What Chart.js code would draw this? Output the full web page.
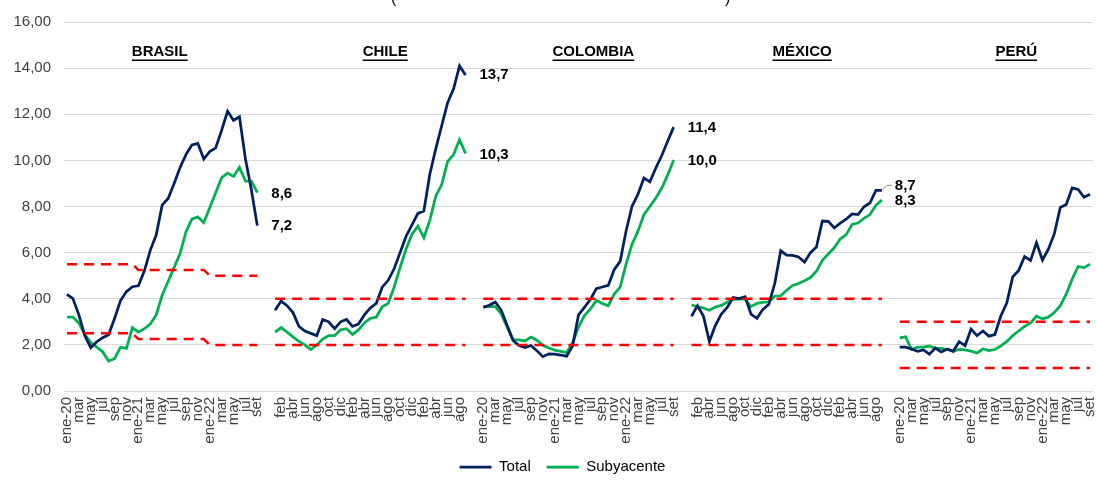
<!DOCTYPE html>
<html>
<head>
<meta charset="utf-8">
<script src="https://cdn.jsdelivr.net/npm/chart.js@4.4.0/dist/chart.umd.min.js"></script>
<style>
  html, body { margin: 0; padding: 0; background: #fff; }
</style>
</head>
<body>
<canvas id="canvas" width="1096" height="481"></canvas>
<script>
// months shown under each country block (ene-20 .. set-22)
let months = ['ene-20', 'feb', 'mar', 'abr', 'may', 'jun', 'jul', 'ago', 'sep', 'oct', 'nov', 'dic',
  'ene-21', 'feb', 'mar', 'abr', 'may', 'jun', 'jul', 'ago', 'sep', 'oct', 'nov', 'dic',
  'ene-22', 'feb', 'mar', 'abr', 'may', 'jun', 'jul', 'ago', 'set'];
let countries = ['BRASIL', 'CHILE', 'COLOMBIA', 'MÉXICO', 'PERÚ'];

let brasilTotal = [4.19, 4.01, 3.30, 2.40, 1.88, 2.13, 2.31, 2.44, 3.14, 3.92, 4.31, 4.52, 4.56, 5.20, 6.10, 6.76, 8.06, 8.35, 8.99, 9.68, 10.25, 10.67, 10.74, 10.06, 10.38, 10.54, 11.30, 12.13, 11.73, 11.89, 10.07, 8.73, 7.17];
let brasilCore = [3.2, 3.2, 2.95, 2.45, 2.1, 1.9, 1.7, 1.3, 1.4, 1.9, 1.85, 2.75, 2.55, 2.7, 2.9, 3.3, 4.15, 4.75, 5.35, 5.95, 6.9, 7.45, 7.55, 7.3, 7.95, 8.6, 9.25, 9.45, 9.3, 9.7, 9.1, 9.1, 8.6];
let chileTotal = [3.5, 3.9, 3.7, 3.4, 2.8, 2.6, 2.5, 2.4, 3.1, 3.0, 2.7, 3.0, 3.1, 2.8, 2.9, 3.3, 3.6, 3.8, 4.5, 4.8, 5.3, 6.0, 6.7, 7.2, 7.7, 7.8, 9.4, 10.5, 11.5, 12.5, 13.1, 14.1, 13.7];
let chileCore = [2.55, 2.75, 2.55, 2.35, 2.15, 2.0, 1.8, 2.0, 2.25, 2.4, 2.4, 2.65, 2.7, 2.45, 2.65, 2.95, 3.15, 3.2, 3.65, 3.8, 4.5, 5.35, 6.15, 6.8, 7.15, 6.65, 7.4, 8.45, 8.95, 9.95, 10.25, 10.9, 10.3];
let colombiaTotal = [3.62, 3.72, 3.86, 3.51, 2.85, 2.19, 1.97, 1.88, 1.97, 1.75, 1.49, 1.61, 1.60, 1.56, 1.51, 1.95, 3.30, 3.63, 3.97, 4.44, 4.51, 4.58, 5.26, 5.62, 6.94, 8.01, 8.53, 9.23, 9.07, 9.67, 10.21, 10.84, 11.44];
let colombiaCore = [3.66, 3.66, 3.66, 3.34, 2.77, 2.22, 2.22, 2.17, 2.34, 2.2, 1.98, 1.87, 1.77, 1.72, 1.67, 2.08, 2.77, 3.27, 3.56, 3.92, 3.8, 3.7, 4.2, 4.5, 5.5, 6.36, 6.93, 7.65, 8.0, 8.37, 8.8, 9.37, 10.02];
let mexicoTotal = [3.24, 3.70, 3.25, 2.15, 2.84, 3.33, 3.62, 4.05, 4.01, 4.09, 3.33, 3.15, 3.54, 3.76, 4.67, 6.08, 5.89, 5.88, 5.81, 5.59, 6.00, 6.24, 7.37, 7.36, 7.07, 7.28, 7.45, 7.68, 7.65, 7.99, 8.15, 8.70, 8.70];
let mexicoCore = [3.73, 3.66, 3.60, 3.50, 3.64, 3.71, 3.85, 3.97, 3.99, 3.98, 3.66, 3.80, 3.84, 3.87, 4.12, 4.13, 4.37, 4.58, 4.66, 4.78, 4.92, 5.19, 5.67, 5.94, 6.21, 6.59, 6.78, 7.22, 7.28, 7.49, 7.65, 8.05, 8.28];
let peruTotal = [1.90, 1.90, 1.82, 1.72, 1.78, 1.60, 1.86, 1.69, 1.82, 1.72, 2.14, 1.97, 2.68, 2.40, 2.60, 2.38, 2.45, 3.25, 3.81, 4.95, 5.23, 5.83, 5.66, 6.43, 5.68, 6.15, 6.82, 7.96, 8.09, 8.81, 8.74, 8.40, 8.53];
let peruCore = [2.3, 2.35, 1.8, 1.9, 1.9, 1.95, 1.85, 1.85, 1.8, 1.72, 1.8, 1.78, 1.73, 1.65, 1.82, 1.75, 1.8, 1.95, 2.15, 2.4, 2.6, 2.8, 2.95, 3.24, 3.13, 3.2, 3.4, 3.7, 4.2, 4.85, 5.4, 5.35, 5.5];

// target ranges (upper / lower)
let brasilUpper = [5.5, 5.5, 5.5, 5.5, 5.5, 5.5, 5.5, 5.5, 5.5, 5.5, 5.5, 5.5, 5.25, 5.25, 5.25, 5.25, 5.25, 5.25, 5.25, 5.25, 5.25, 5.25, 5.25, 5.25, 5, 5, 5, 5, 5, 5, 5, 5, 5];
let brasilLower = [2.5, 2.5, 2.5, 2.5, 2.5, 2.5, 2.5, 2.5, 2.5, 2.5, 2.5, 2.5, 2.25, 2.25, 2.25, 2.25, 2.25, 2.25, 2.25, 2.25, 2.25, 2.25, 2.25, 2.25, 2, 2, 2, 2, 2, 2, 2, 2, 2];
let chileUpper = [4, 4, 4, 4, 4, 4, 4, 4, 4, 4, 4, 4, 4, 4, 4, 4, 4, 4, 4, 4, 4, 4, 4, 4, 4, 4, 4, 4, 4, 4, 4, 4, 4];
let chileLower = [2, 2, 2, 2, 2, 2, 2, 2, 2, 2, 2, 2, 2, 2, 2, 2, 2, 2, 2, 2, 2, 2, 2, 2, 2, 2, 2, 2, 2, 2, 2, 2, 2];
let colombiaUpper = [4, 4, 4, 4, 4, 4, 4, 4, 4, 4, 4, 4, 4, 4, 4, 4, 4, 4, 4, 4, 4, 4, 4, 4, 4, 4, 4, 4, 4, 4, 4, 4, 4];
let colombiaLower = [2, 2, 2, 2, 2, 2, 2, 2, 2, 2, 2, 2, 2, 2, 2, 2, 2, 2, 2, 2, 2, 2, 2, 2, 2, 2, 2, 2, 2, 2, 2, 2, 2];
let mexicoUpper = [4, 4, 4, 4, 4, 4, 4, 4, 4, 4, 4, 4, 4, 4, 4, 4, 4, 4, 4, 4, 4, 4, 4, 4, 4, 4, 4, 4, 4, 4, 4, 4, 4];
let mexicoLower = [2, 2, 2, 2, 2, 2, 2, 2, 2, 2, 2, 2, 2, 2, 2, 2, 2, 2, 2, 2, 2, 2, 2, 2, 2, 2, 2, 2, 2, 2, 2, 2, 2];
let peruUpper = [3, 3, 3, 3, 3, 3, 3, 3, 3, 3, 3, 3, 3, 3, 3, 3, 3, 3, 3, 3, 3, 3, 3, 3, 3, 3, 3, 3, 3, 3, 3, 3, 3];
let peruLower = [1, 1, 1, 1, 1, 1, 1, 1, 1, 1, 1, 1, 1, 1, 1, 1, 1, 1, 1, 1, 1, 1, 1, 1, 1, 1, 1, 1, 1, 1, 1, 1, 1];

let yTicks = [0, 2, 4, 6, 8, 10, 12, 14, 16];

// two empty categories between country blocks
let GAP = 2;
let join = function(parts, filler) {
  let out = [];
  parts.forEach(function(p, i) {
    if (i > 0) for (let k = 0; k < GAP; k++) out.push(filler);
    out = out.concat(p);
  });
  return out;
};

let labels = join([months, months, months, months, months], '');
let totals = [brasilTotal, chileTotal, colombiaTotal, mexicoTotal, peruTotal];
let cores = [brasilCore, chileCore, colombiaCore, mexicoCore, peruCore];
let blockStart = countries.map((c, i) => i * (months.length + GAP));

const FONT = '"Liberation Sans", Arial, sans-serif';

// where the country headings sit (category index) and end-label offsets
let titleSpots = [15.6, 53.5, 88.5, 123.6, 159.6];
let endLabels = [
  { series: 'Total', c: 0, dx: 14, dy: 0 },
  { series: 'Subyacente', c: 0, dx: 14, dy: 1 },
  { series: 'Total', c: 1, dx: 14, dy: 0 },
  { series: 'Subyacente', c: 1, dx: 14, dy: 1 },
  { series: 'Total', c: 2, dx: 14, dy: 1 },
  { series: 'Subyacente', c: 2, dx: 14, dy: 1 },
  { series: 'Total', c: 3, dx: 13, dy: -4, leader: true },
  { series: 'Subyacente', c: 3, dx: 13, dy: 1 }
];

let annotate = {
  id: 'annotate',
  beforeDraw(chart) {
    // legend sits a little right of centre in the original
    if (chart.legend && !chart.legend._shifted) {
      chart.legend.left += 16;
      chart.legend.right += 16;
      chart.legend._shifted = true;
    }
  },
  afterDatasetsDraw(chart) {
    let ctx = chart.ctx, xs = chart.scales.x;
    ctx.save();
    ctx.fillStyle = '#000';
    // cut-off heading at the very top
    ctx.font = '16px ' + FONT;
    ctx.textAlign = 'left';
    ctx.textBaseline = 'alphabetic';
    ctx.fillText('(', 391, 2.5);
    ctx.fillText(')', 725, 2.5);

    ctx.font = 'bold 15px ' + FONT;
    ctx.textAlign = 'center';
    ctx.textBaseline = 'middle';
    countries.forEach(function(name, i) {
      let cx = xs.getPixelForValue(titleSpots[i]);
      let w = ctx.measureText(name).width;
      ctx.fillText(name, cx, 52);
      ctx.fillRect(cx - w / 2, 59.5, w, 1.5);
    });

    ctx.textAlign = 'left';
    endLabels.forEach(function(l) {
      let idx = blockStart[l.c] + months.length - 1;
      let dsIndex = chart.data.datasets.findIndex(d => d.label === l.series);
      let pt = chart.getDatasetMeta(dsIndex).data[idx];
      let src = l.series === 'Total' ? totals[l.c] : cores[l.c];
      let v = src[src.length - 1];
      let txt = v.toFixed(1).replace('.', ',');
      if (l.leader) {
        ctx.strokeStyle = '#8c8c8c';
        ctx.lineWidth = 1;
        ctx.beginPath();
        ctx.moveTo(pt.x + 1, pt.y - 1);
        ctx.lineTo(pt.x + 5, pt.y + l.dy - 1);
        ctx.lineTo(pt.x + 10, pt.y + l.dy - 1);
        ctx.stroke();
      }
      ctx.fillText(txt, pt.x + l.dx, pt.y + l.dy);
    });
    ctx.restore();
  }
};

let dashed = {
  borderColor: '#FF0000',
  backgroundColor: '#FF0000',
  borderWidth: 2.5,
  borderDash: [10, 7],
  pointRadius: 0,
  fill: false
};

let ctx = document.getElementById('canvas').getContext('2d');
let chart = new Chart(ctx, {
  type: 'line',
  data: {
    labels: labels,
    datasets: [
      Object.assign({ label: 'upper', data: join([brasilUpper, chileUpper, colombiaUpper, mexicoUpper, peruUpper], null) }, dashed),
      Object.assign({ label: 'lower', data: join([brasilLower, chileLower, colombiaLower, mexicoLower, peruLower], null) }, dashed),
      {
        label: 'Total',
        data: join(totals, null),
        borderColor: '#002060',
        backgroundColor: '#002060',
        borderWidth: 2.75,
        pointRadius: 0
      },
      {
        label: 'Subyacente',
        data: join(cores, null),
        borderColor: '#00B050',
        backgroundColor: '#00B050',
        borderWidth: 2.75,
        pointRadius: 0
      }
    ]
  },
  options: {
    responsive: false,
    animation: false,
    spanGaps: false,
    layout: { padding: { left: 0, right: 3, top: 20, bottom: 0 } },
    scales: {
      x: {
        offset: true,
        grid: { display: false, drawTicks: false },
        border: { display: false },
        ticks: {
          autoSkip: false,
          minRotation: 90,
          maxRotation: 90,
          padding: 6,
          color: '#404040',
          font: { family: FONT, size: 15 },
          callback: function(value, index) {
            return index % 2 === 0 ? this.getLabelForValue(value) : '';
          }
        },
        afterFit: function(scale) {
          scale.height = 52.5;
          scale.paddingLeft = 0;
          scale.paddingRight = 0;
        }
      },
      y: {
        min: yTicks[0],
        max: yTicks[yTicks.length - 1],
        afterBuildTicks: function(scale) { scale.ticks = yTicks.map(v => ({ value: v })); },
        grid: { color: '#D9D9D9', lineWidth: 1, drawTicks: false },
        border: { display: false },
        ticks: {
          padding: 13,
          color: '#404040',
          font: { family: FONT, size: 15 },
          callback: function(v) { return v.toFixed(2).replace('.', ','); }
        },
        afterFit: function(scale) { scale.width = 64; }
      }
    },
    plugins: {
      tooltip: { enabled: false },
      legend: {
        position: 'bottom',
        maxHeight: 37.5,
        labels: {
          filter: item => item.text === 'Total' || item.text === 'Subyacente',
          usePointStyle: true,
          pointStyle: 'line',
          pointStyleWidth: 32,
          padding: 16,
          color: '#000',
          font: { family: FONT, size: 15 }
        }
      }
    }
  },
  plugins: [annotate]
});
</script>
</body>
</html>
